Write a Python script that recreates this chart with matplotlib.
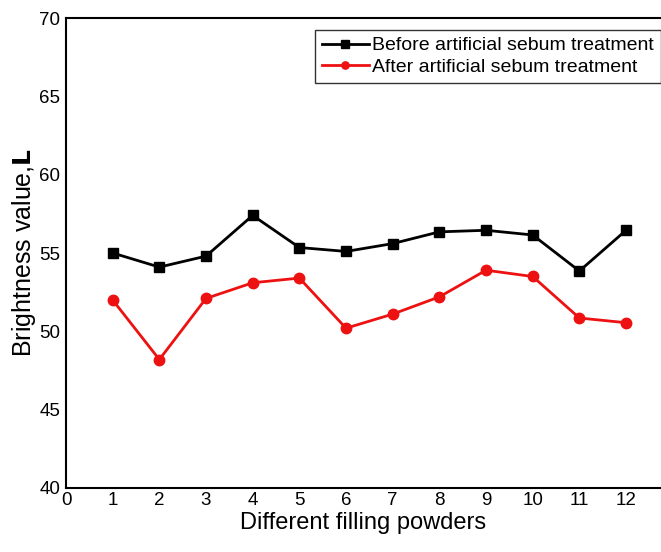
import matplotlib
matplotlib.use("Agg")
import matplotlib.pyplot as plt

plt.rcParams['font.family'] = ['Liberation Sans', 'DejaVu Sans']

powders = [1, 2, 3, 4, 5, 6, 7, 8, 9, 10, 11, 12]
before = [55.0, 54.1, 54.8, 57.4, 55.35, 55.1, 55.6, 56.35, 56.45, 56.15, 53.85, 56.45]
after = [52.0, 48.2, 52.1, 53.1, 53.4, 50.2, 51.1, 52.2, 53.9, 53.5, 50.85, 50.55]
xticks = list(range(0, 13))
yticks = [40, 45, 50, 55, 60, 65, 70]

fig = plt.figure(figsize=(6.61, 5.52), dpi=100)
ax = fig.add_axes([66/661, 1-488/552, 1-66/661, (488-18)/552])

ax.plot(powders, before, color='black', lw=2, marker='s', ms=7.5, label='Before artificial sebum treatment')
ax.plot(powders, after, color='#ee1111', lw=2, marker='o', ms=7.5, label='After artificial sebum treatment')

ax.set_xlim(0, (661-66)/46.67)
ax.set_ylim(40, 70)
ax.set_xticks(xticks)
ax.set_yticks(yticks)
ax.tick_params(axis='x', length=0, labelsize=13.5, pad=3)
ax.tick_params(axis='y', length=0, labelsize=13.5, pad=4)
ax.spines['right'].set_visible(False)
for s in ['left', 'bottom', 'top']:
    ax.spines[s].set_linewidth(1.5)

ax.set_xlabel('Different filling powders', fontsize=17, labelpad=2)
ax.set_ylabel('Brightness value,$\\mathbf{L}$', fontsize=18, labelpad=1)

leg = ax.legend(loc='upper right', bbox_to_anchor=(1.0, 1 - 12/470), fontsize=14,
                frameon=True, fancybox=False, edgecolor='black', borderpad=0.35,
                handlelength=2.4, handletextpad=0.2, labelspacing=0.2, borderaxespad=0,
                markerscale=0.7)
leg.get_frame().set_linewidth(1)

fig.savefig('out.png', dpi=100)
